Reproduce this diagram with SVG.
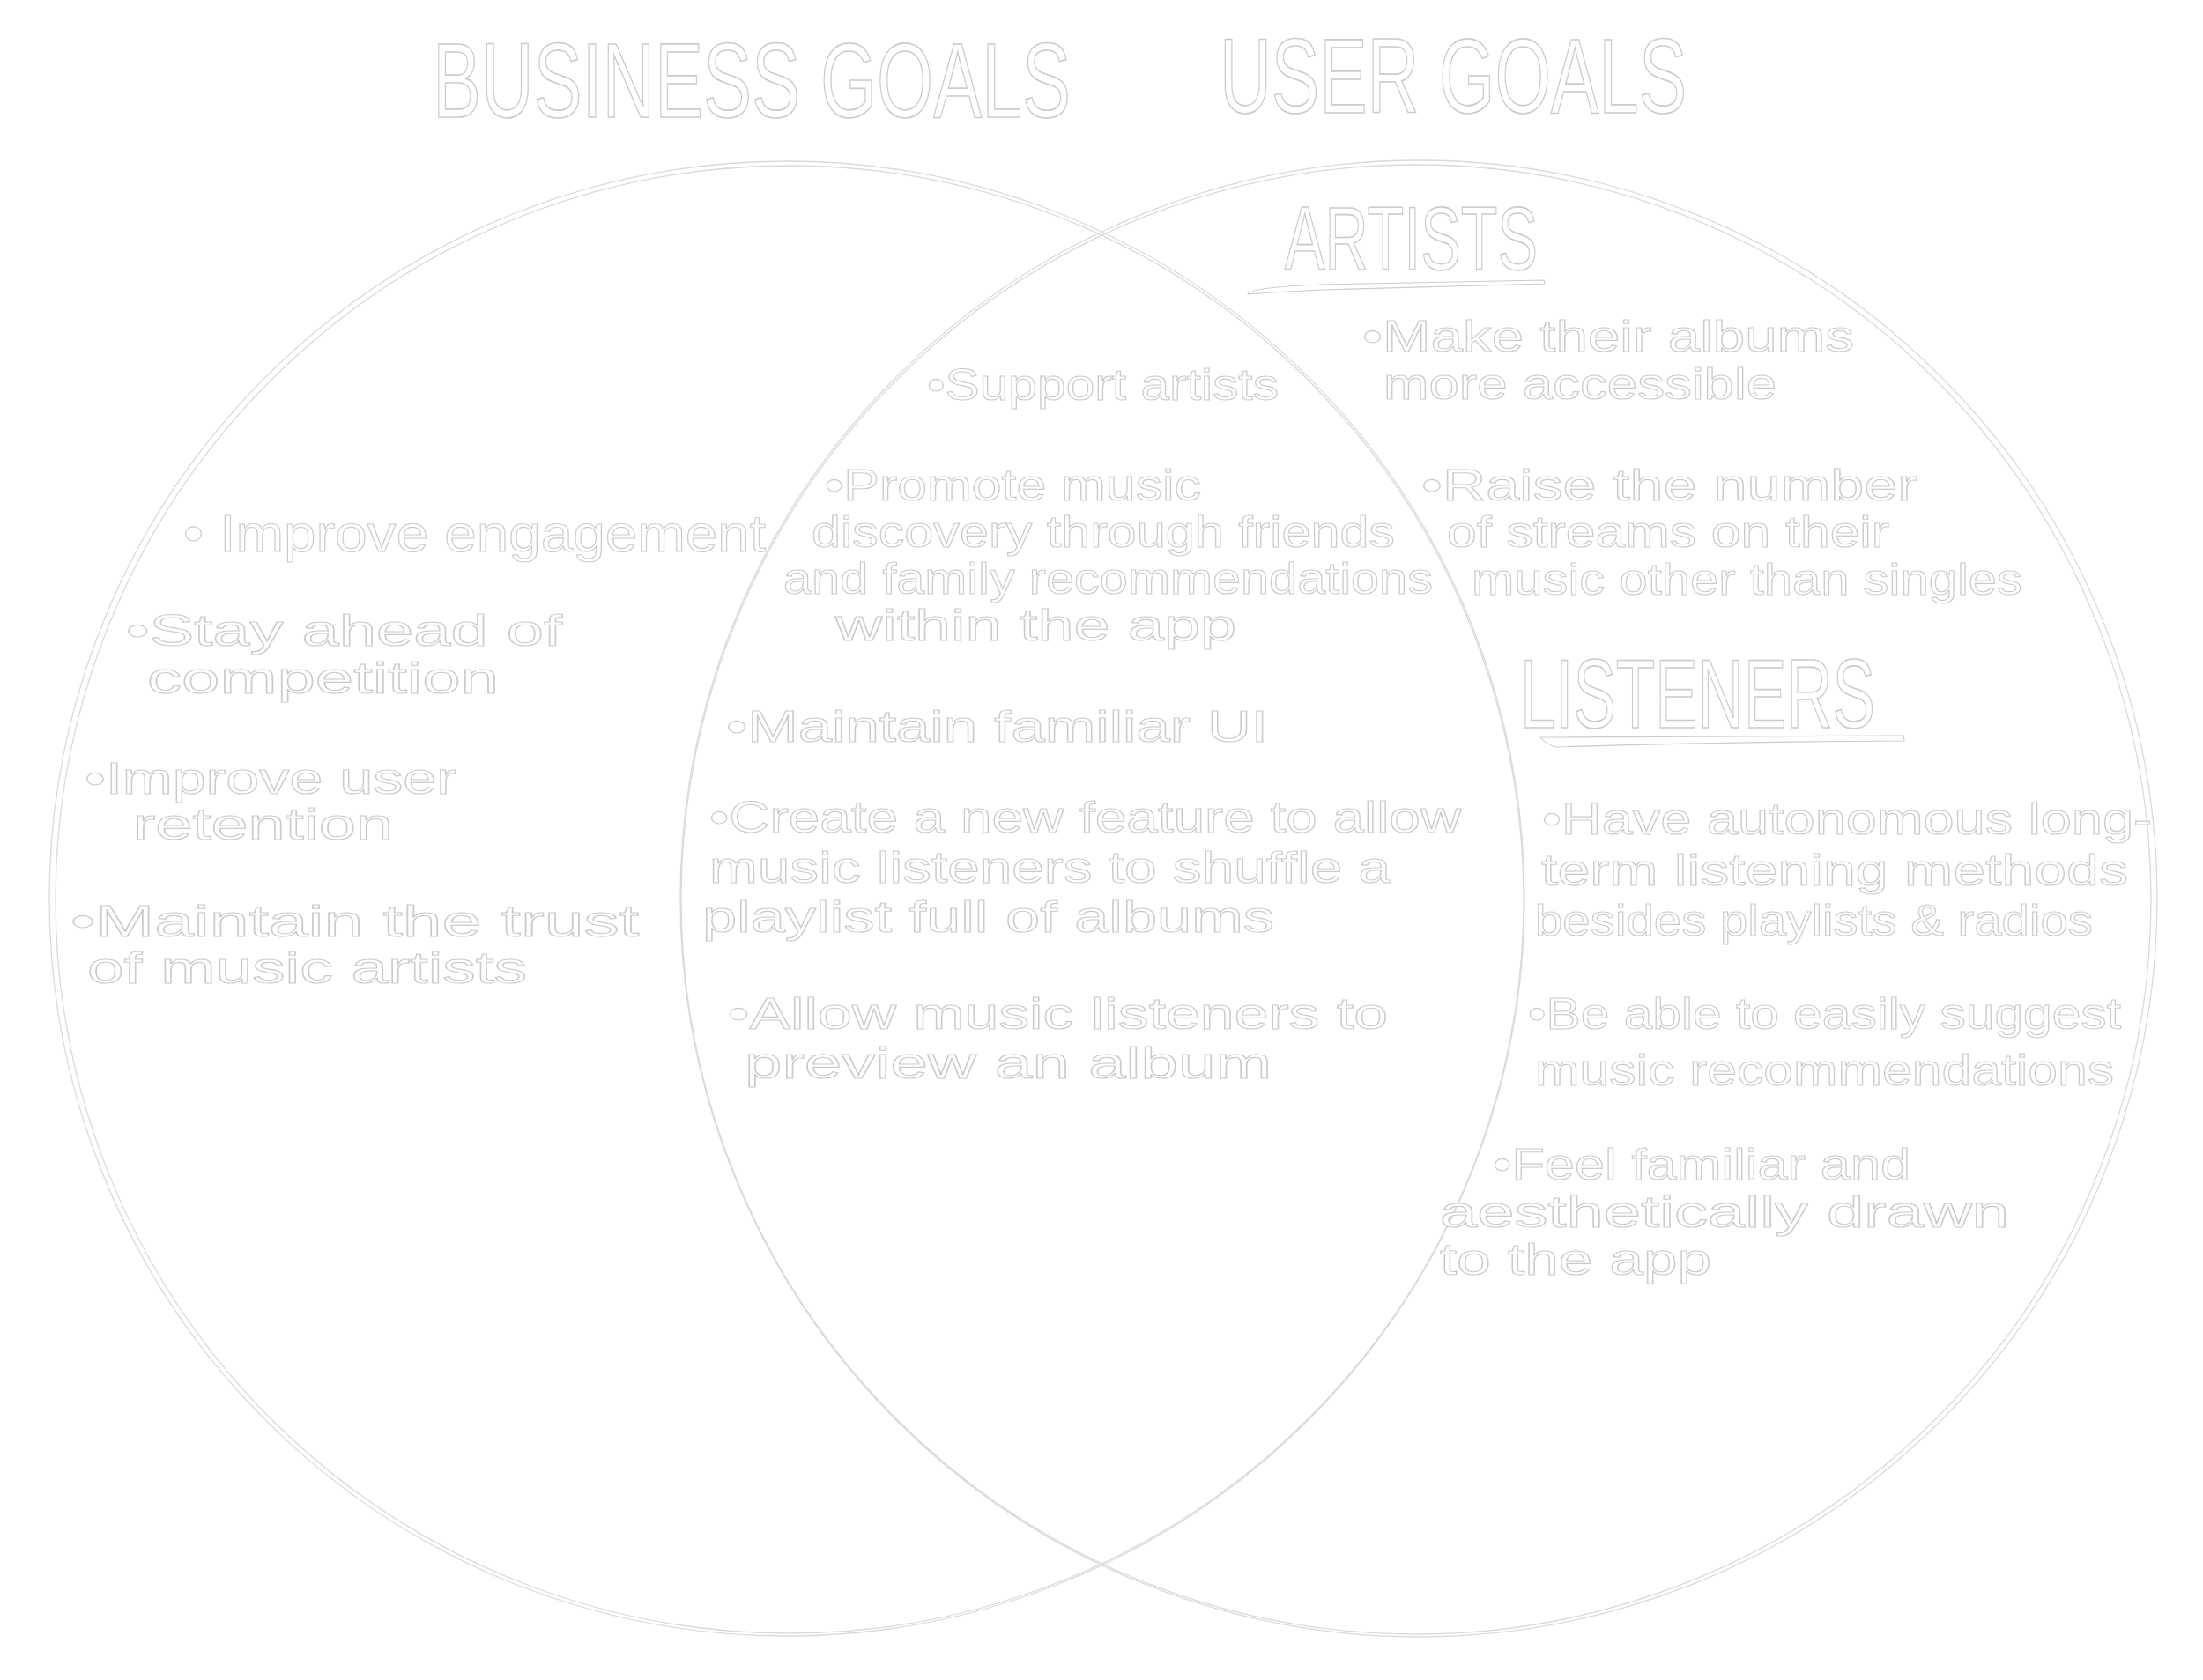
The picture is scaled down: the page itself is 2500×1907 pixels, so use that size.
<svg xmlns="http://www.w3.org/2000/svg" width="2500" height="1907" viewBox="0 0 2500 1907">
<style>
.t{font-family:"Liberation Sans",Arial,sans-serif;fill:#fff;stroke:#cbcbcb;stroke-width:1.1;}
.h{font-size:78px;}
.b{font-size:50px;}
.l{font-size:60px;}
.c{fill:none;stroke:#dadada;stroke-width:1.3;}
.u{fill:#fff;stroke:#cbcbcb;stroke-width:1.1;}
</style>
<rect width="2500" height="1907" fill="#fff"/>
<g id="circles">
<circle class="c" cx="893" cy="1020" r="837"/>
<circle class="c" cx="896" cy="1021" r="833"/>
<circle class="c" cx="1610" cy="1020" r="838"/>
<circle class="c" cx="1607" cy="1021" r="834"/>
</g>
<g id="title-business">
<text class="t h" transform="translate(491,133) scale(1,1.55)" x="0" y="0" textLength="724" lengthAdjust="spacingAndGlyphs" stroke-width="0.8">BUSINESS GOALS</text>
</g>
<g id="title-user">
<text class="t h" transform="translate(1384,128) scale(1,1.55)" x="0" y="0" textLength="530" lengthAdjust="spacingAndGlyphs" stroke-width="0.8">USER GOALS</text>
</g>
<g id="business-goals">
<text class="t l" x="208" y="626" textLength="661" lengthAdjust="spacingAndGlyphs">• Improve engagement</text>
<text class="t b" x="143" y="733" textLength="495" lengthAdjust="spacingAndGlyphs">•Stay ahead of</text>
<text class="t b" x="167" y="787" textLength="399" lengthAdjust="spacingAndGlyphs">competition</text>
<text class="t b" x="96" y="901" textLength="422" lengthAdjust="spacingAndGlyphs">•Improve user</text>
<text class="t b" x="151" y="953" textLength="295" lengthAdjust="spacingAndGlyphs">retention</text>
<text class="t b" x="80" y="1063" textLength="645" lengthAdjust="spacingAndGlyphs">•Maintain the trust</text>
<text class="t b" x="99" y="1116" textLength="499" lengthAdjust="spacingAndGlyphs">of music artists</text>
</g>
<g id="shared-goals">
<text class="t b" x="1052" y="454" textLength="399" lengthAdjust="spacingAndGlyphs">•Support artists</text>
<text class="t b" x="936" y="568" textLength="427" lengthAdjust="spacingAndGlyphs">•Promote music</text>
<text class="t b" x="921" y="621" textLength="662" lengthAdjust="spacingAndGlyphs">discovery through friends</text>
<text class="t b" x="889" y="674" textLength="737" lengthAdjust="spacingAndGlyphs">and family recommendations</text>
<text class="t b" x="948" y="727" textLength="455" lengthAdjust="spacingAndGlyphs">within the app</text>
<text class="t b" x="824" y="842" textLength="615" lengthAdjust="spacingAndGlyphs">•Maintain familiar UI</text>
<text class="t b" x="805" y="945" textLength="853" lengthAdjust="spacingAndGlyphs">•Create a new feature to allow</text>
<text class="t b" x="805" y="1002" textLength="773" lengthAdjust="spacingAndGlyphs">music listeners to shuffle a</text>
<text class="t b" x="797" y="1058" textLength="649" lengthAdjust="spacingAndGlyphs">playlist full of albums</text>
<text class="t b" x="826" y="1168" textLength="749" lengthAdjust="spacingAndGlyphs">•Allow music listeners to</text>
<text class="t b" x="845" y="1224" textLength="598" lengthAdjust="spacingAndGlyphs">preview an album</text>
</g>
<g id="artists">
<text class="t" font-size="68" transform="translate(1458,306) scale(1,1.5)" x="0" y="0" textLength="287" lengthAdjust="spacingAndGlyphs" stroke-width="0.8">ARTISTS</text>
<path class="u" d="M1416 334 Q1420 326 1500 323 L1752 318 L1753 322 L1500 329 Q1440 332 1416 334 Z"/>
<text class="t b" x="1546" y="399" textLength="558" lengthAdjust="spacingAndGlyphs">•Make their albums</text>
<text class="t b" x="1570" y="453" textLength="446" lengthAdjust="spacingAndGlyphs">more accessible</text>
<text class="t b" x="1613" y="568" textLength="563" lengthAdjust="spacingAndGlyphs">•Raise the number</text>
<text class="t b" x="1642" y="621" textLength="502" lengthAdjust="spacingAndGlyphs">of streams on their</text>
<text class="t b" x="1670" y="675" textLength="625" lengthAdjust="spacingAndGlyphs">music other than singles</text>
</g>
<g id="listeners">
<text class="t" font-size="74" transform="translate(1725,826) scale(1,1.5)" x="0" y="0" textLength="403" lengthAdjust="spacingAndGlyphs" stroke-width="0.8">LISTENERS</text>
<path class="u" d="M1748 837 L2160 835 L2161 841 Q1950 842 1765 848 Q1755 845 1748 837 Z"/>
<text class="t b" x="1750" y="947" textLength="692" lengthAdjust="spacingAndGlyphs">•Have autonomous long-</text>
<text class="t b" x="1749" y="1005" textLength="666" lengthAdjust="spacingAndGlyphs">term listening methods</text>
<text class="t b" x="1742" y="1062" textLength="633" lengthAdjust="spacingAndGlyphs">besides playlists &amp; radios</text>
<text class="t b" x="1734" y="1168" textLength="673" lengthAdjust="spacingAndGlyphs">•Be able to easily suggest</text>
<text class="t b" x="1742" y="1232" textLength="657" lengthAdjust="spacingAndGlyphs">music recommendations</text>
<text class="t b" x="1694" y="1339" textLength="474" lengthAdjust="spacingAndGlyphs">•Feel familiar and</text>
<text class="t b" x="1634" y="1393" textLength="646" lengthAdjust="spacingAndGlyphs">aesthetically drawn</text>
<text class="t b" x="1634" y="1447" textLength="308" lengthAdjust="spacingAndGlyphs">to the app</text>
</g>
</svg>
